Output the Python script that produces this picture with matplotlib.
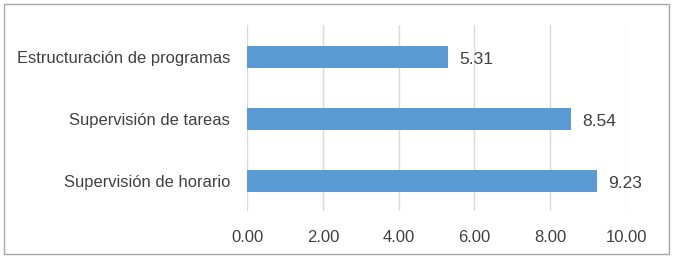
import matplotlib.pyplot as plt
from matplotlib.patches import Rectangle

# Data
categories = ['Estructuración de programas', 'Supervisión de tareas', 'Supervisión de horario']
values = [5.31, 8.54, 9.23]
ticks = [0, 2, 4, 6, 8, 10]
tick_labels = ['0.00', '2.00', '4.00', '6.00', '8.00', '10.00']

plt.rcParams['font.family'] = ['Liberation Sans', 'DejaVu Sans']
text_color = '#404040'

fig = plt.figure(figsize=(6.74, 2.62), dpi=100)
ax = fig.add_axes([0.3665, 0.1947, 0.5623, 0.7099])

pos = list(range(len(categories)))
ax.barh(pos, values, height=0.36, color='#5B9BD5', zorder=3)
for p, v in zip(pos, values):
    ax.text(v + 0.3, p + 0.03, f'{v:.2f}', va='center', ha='left', fontsize=12.5, color=text_color)

ax.set_xlim(0, 10)
ax.set_ylim(2.48, -0.52)
ax.set_xticks(ticks)
ax.set_xticklabels(tick_labels, fontsize=12, color=text_color)
ax.set_yticks(pos)
ax.set_yticklabels(categories, fontsize=11.9, color=text_color)
ax.tick_params(length=0)
ax.tick_params(axis='x', pad=14)
ax.tick_params(axis='y', pad=12)
ax.grid(axis='x', color='#D9D9D9', linewidth=1, zorder=0)
for s in ax.spines.values():
    s.set_visible(False)

# figure border
fig.patches.append(Rectangle((4 / 674, 8 / 262), 665 / 674, 250 / 262, transform=fig.transFigure,
                             fill=False, edgecolor='#A6A6A6', linewidth=1))

fig.savefig('out.png', dpi=100)
